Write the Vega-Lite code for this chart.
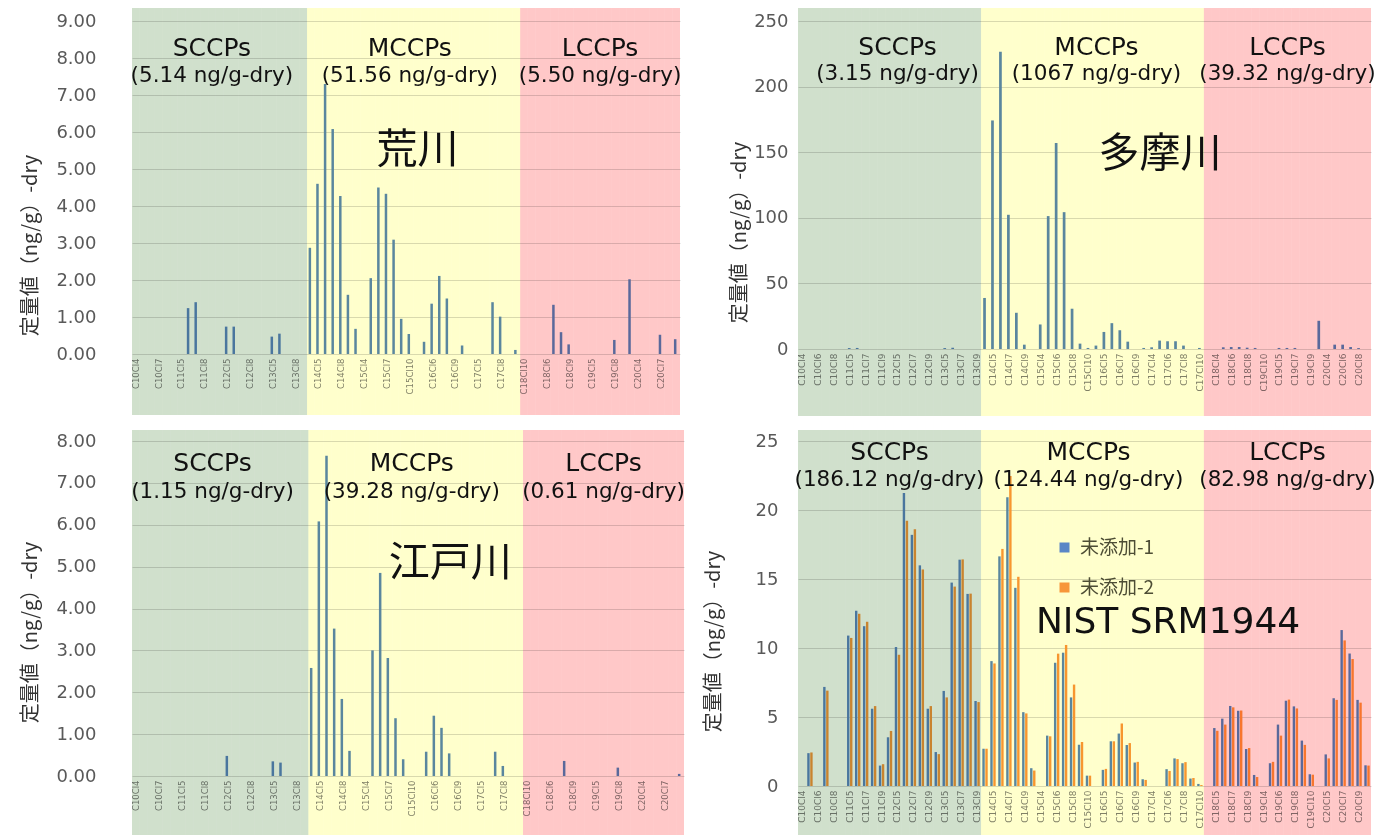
{
"$schema": "https://vega.github.io/schema/vega-lite/v6.json",
"background": "white",
"padding": {"left": 20, "top": 8, "right": 0, "bottom": 0},
"config": {
 "view": {"stroke": null},
 "axis": {"domain": false, "ticks": false, "labelFont": "DejaVu Sans", "labelColor": "#595959", "gridColor": "#d9d9d9", "titleFont": "Noto Sans CJK JP", "titleFontWeight": "normal", "titleFontSize": 20, "titleColor": "#333333", "labelOverlap": false},
 "axisX": {"labelAngle": -90, "labelFontSize": 8.5, "labelColor": "#808080", "labelPadding": 4, "grid": false},
 "axisY": {"labelFontSize": 18, "grid": true},
 "text": {"color": "#111111"}
},
"datasets": {
 "cats_top": [
  {"cat":"C10Cl4","grp":"SCCPs"},{"cat":"C10Cl5","grp":"SCCPs"},{"cat":"C10Cl6","grp":"SCCPs"},{"cat":"C10Cl7","grp":"SCCPs"},{"cat":"C10Cl8","grp":"SCCPs"},
  {"cat":"C11Cl4","grp":"SCCPs"},{"cat":"C11Cl5","grp":"SCCPs"},{"cat":"C11Cl6","grp":"SCCPs"},{"cat":"C11Cl7","grp":"SCCPs"},{"cat":"C11Cl8","grp":"SCCPs"},{"cat":"C11Cl9","grp":"SCCPs"},
  {"cat":"C12Cl4","grp":"SCCPs"},{"cat":"C12Cl5","grp":"SCCPs"},{"cat":"C12Cl6","grp":"SCCPs"},{"cat":"C12Cl7","grp":"SCCPs"},{"cat":"C12Cl8","grp":"SCCPs"},{"cat":"C12Cl9","grp":"SCCPs"},
  {"cat":"C13Cl4","grp":"SCCPs"},{"cat":"C13Cl5","grp":"SCCPs"},{"cat":"C13Cl6","grp":"SCCPs"},{"cat":"C13Cl7","grp":"SCCPs"},{"cat":"C13Cl8","grp":"SCCPs"},{"cat":"C13Cl9","grp":"SCCPs"},
  {"cat":"C14Cl4","grp":"MCCPs"},{"cat":"C14Cl5","grp":"MCCPs"},{"cat":"C14Cl6","grp":"MCCPs"},{"cat":"C14Cl7","grp":"MCCPs"},{"cat":"C14Cl8","grp":"MCCPs"},{"cat":"C14Cl9","grp":"MCCPs"},{"cat":"C14Cl10","grp":"MCCPs"},
  {"cat":"C15Cl4","grp":"MCCPs"},{"cat":"C15Cl5","grp":"MCCPs"},{"cat":"C15Cl6","grp":"MCCPs"},{"cat":"C15Cl7","grp":"MCCPs"},{"cat":"C15Cl8","grp":"MCCPs"},{"cat":"C15Cl9","grp":"MCCPs"},{"cat":"C15Cl10","grp":"MCCPs"},
  {"cat":"C16Cl4","grp":"MCCPs"},{"cat":"C16Cl5","grp":"MCCPs"},{"cat":"C16Cl6","grp":"MCCPs"},{"cat":"C16Cl7","grp":"MCCPs"},{"cat":"C16Cl8","grp":"MCCPs"},{"cat":"C16Cl9","grp":"MCCPs"},{"cat":"C16Cl10","grp":"MCCPs"},
  {"cat":"C17Cl4","grp":"MCCPs"},{"cat":"C17Cl5","grp":"MCCPs"},{"cat":"C17Cl6","grp":"MCCPs"},{"cat":"C17Cl7","grp":"MCCPs"},{"cat":"C17Cl8","grp":"MCCPs"},{"cat":"C17Cl9","grp":"MCCPs"},{"cat":"C17Cl10","grp":"MCCPs"},
  {"cat":"C18Cl10","grp":"LCCPs"},{"cat":"C18Cl4","grp":"LCCPs"},{"cat":"C18Cl5","grp":"LCCPs"},{"cat":"C18Cl6","grp":"LCCPs"},{"cat":"C18Cl7","grp":"LCCPs"},{"cat":"C18Cl8","grp":"LCCPs"},{"cat":"C18Cl9","grp":"LCCPs"},
  {"cat":"C19Cl10","grp":"LCCPs"},{"cat":"C19Cl4","grp":"LCCPs"},{"cat":"C19Cl5","grp":"LCCPs"},{"cat":"C19Cl6","grp":"LCCPs"},{"cat":"C19Cl7","grp":"LCCPs"},{"cat":"C19Cl8","grp":"LCCPs"},{"cat":"C19Cl9","grp":"LCCPs"},
  {"cat":"C20Cl10","grp":"LCCPs"},{"cat":"C20Cl4","grp":"LCCPs"},{"cat":"C20Cl5","grp":"LCCPs"},{"cat":"C20Cl6","grp":"LCCPs"},{"cat":"C20Cl7","grp":"LCCPs"},{"cat":"C20Cl8","grp":"LCCPs"},{"cat":"C20Cl9","grp":"LCCPs"}
 ],
 "cats_nat": [
  {"cat":"C10Cl4","grp":"SCCPs"},{"cat":"C10Cl5","grp":"SCCPs"},{"cat":"C10Cl6","grp":"SCCPs"},{"cat":"C10Cl7","grp":"SCCPs"},{"cat":"C10Cl8","grp":"SCCPs"},
  {"cat":"C11Cl4","grp":"SCCPs"},{"cat":"C11Cl5","grp":"SCCPs"},{"cat":"C11Cl6","grp":"SCCPs"},{"cat":"C11Cl7","grp":"SCCPs"},{"cat":"C11Cl8","grp":"SCCPs"},{"cat":"C11Cl9","grp":"SCCPs"},
  {"cat":"C12Cl4","grp":"SCCPs"},{"cat":"C12Cl5","grp":"SCCPs"},{"cat":"C12Cl6","grp":"SCCPs"},{"cat":"C12Cl7","grp":"SCCPs"},{"cat":"C12Cl8","grp":"SCCPs"},{"cat":"C12Cl9","grp":"SCCPs"},
  {"cat":"C13Cl4","grp":"SCCPs"},{"cat":"C13Cl5","grp":"SCCPs"},{"cat":"C13Cl6","grp":"SCCPs"},{"cat":"C13Cl7","grp":"SCCPs"},{"cat":"C13Cl8","grp":"SCCPs"},{"cat":"C13Cl9","grp":"SCCPs"},
  {"cat":"C14Cl4","grp":"MCCPs"},{"cat":"C14Cl5","grp":"MCCPs"},{"cat":"C14Cl6","grp":"MCCPs"},{"cat":"C14Cl7","grp":"MCCPs"},{"cat":"C14Cl8","grp":"MCCPs"},{"cat":"C14Cl9","grp":"MCCPs"},{"cat":"C14Cl10","grp":"MCCPs"},
  {"cat":"C15Cl4","grp":"MCCPs"},{"cat":"C15Cl5","grp":"MCCPs"},{"cat":"C15Cl6","grp":"MCCPs"},{"cat":"C15Cl7","grp":"MCCPs"},{"cat":"C15Cl8","grp":"MCCPs"},{"cat":"C15Cl9","grp":"MCCPs"},{"cat":"C15Cl10","grp":"MCCPs"},
  {"cat":"C16Cl4","grp":"MCCPs"},{"cat":"C16Cl5","grp":"MCCPs"},{"cat":"C16Cl6","grp":"MCCPs"},{"cat":"C16Cl7","grp":"MCCPs"},{"cat":"C16Cl8","grp":"MCCPs"},{"cat":"C16Cl9","grp":"MCCPs"},{"cat":"C16Cl10","grp":"MCCPs"},
  {"cat":"C17Cl4","grp":"MCCPs"},{"cat":"C17Cl5","grp":"MCCPs"},{"cat":"C17Cl6","grp":"MCCPs"},{"cat":"C17Cl7","grp":"MCCPs"},{"cat":"C17Cl8","grp":"MCCPs"},{"cat":"C17Cl9","grp":"MCCPs"},{"cat":"C17Cl10","grp":"MCCPs"},
  {"cat":"C18Cl4","grp":"LCCPs"},{"cat":"C18Cl5","grp":"LCCPs"},{"cat":"C18Cl6","grp":"LCCPs"},{"cat":"C18Cl7","grp":"LCCPs"},{"cat":"C18Cl8","grp":"LCCPs"},{"cat":"C18Cl9","grp":"LCCPs"},{"cat":"C18Cl10","grp":"LCCPs"},
  {"cat":"C19Cl4","grp":"LCCPs"},{"cat":"C19Cl5","grp":"LCCPs"},{"cat":"C19Cl6","grp":"LCCPs"},{"cat":"C19Cl7","grp":"LCCPs"},{"cat":"C19Cl8","grp":"LCCPs"},{"cat":"C19Cl9","grp":"LCCPs"},{"cat":"C19Cl10","grp":"LCCPs"},
  {"cat":"C20Cl4","grp":"LCCPs"},{"cat":"C20Cl5","grp":"LCCPs"},{"cat":"C20Cl6","grp":"LCCPs"},{"cat":"C20Cl7","grp":"LCCPs"},{"cat":"C20Cl8","grp":"LCCPs"},{"cat":"C20Cl9","grp":"LCCPs"},{"cat":"C20Cl10","grp":"LCCPs"}
 ],
 "arakawa": [
  {"cat":"C11Cl6","v":1.24},{"cat":"C11Cl7","v":1.40},{"cat":"C12Cl5","v":0.74},{"cat":"C12Cl6","v":0.74},{"cat":"C13Cl5","v":0.47},{"cat":"C13Cl6","v":0.55},
  {"cat":"C14Cl4","v":2.87},{"cat":"C14Cl5","v":4.60},{"cat":"C14Cl6","v":7.30},{"cat":"C14Cl7","v":6.08},{"cat":"C14Cl8","v":4.27},{"cat":"C14Cl9","v":1.60},{"cat":"C14Cl10","v":0.68},
  {"cat":"C15Cl5","v":2.05},{"cat":"C15Cl6","v":4.50},{"cat":"C15Cl7","v":4.33},{"cat":"C15Cl8","v":3.09},{"cat":"C15Cl9","v":0.95},{"cat":"C15Cl10","v":0.54},
  {"cat":"C16Cl5","v":0.33},{"cat":"C16Cl6","v":1.36},{"cat":"C16Cl7","v":2.11},{"cat":"C16Cl8","v":1.50},{"cat":"C16Cl10","v":0.23},
  {"cat":"C17Cl7","v":1.40},{"cat":"C17Cl8","v":1.01},{"cat":"C17Cl10","v":0.11},
  {"cat":"C18Cl7","v":1.33},{"cat":"C18Cl8","v":0.59},{"cat":"C18Cl9","v":0.26},{"cat":"C19Cl8","v":0.38},{"cat":"C20Cl10","v":2.02},{"cat":"C20Cl7","v":0.52},{"cat":"C20Cl9","v":0.40}
 ],
 "tamagawa": [
  {"cat":"C11Cl5","v":0.7},{"cat":"C11Cl6","v":0.8},{"cat":"C13Cl5","v":0.7},{"cat":"C13Cl6","v":0.95},
  {"cat":"C14Cl4","v":38.9},{"cat":"C14Cl5","v":174.2},{"cat":"C14Cl6","v":226.5},{"cat":"C14Cl7","v":102.3},{"cat":"C14Cl8","v":27.6},{"cat":"C14Cl9","v":3.3},
  {"cat":"C15Cl4","v":18.7},{"cat":"C15Cl5","v":101.3},{"cat":"C15Cl6","v":157.0},{"cat":"C15Cl7","v":104.3},{"cat":"C15Cl8","v":30.7},{"cat":"C15Cl9","v":4.1},{"cat":"C15Cl10","v":0.8},
  {"cat":"C16Cl4","v":2.6},{"cat":"C16Cl5","v":13.0},{"cat":"C16Cl6","v":19.7},{"cat":"C16Cl7","v":14.3},{"cat":"C16Cl8","v":5.6},{"cat":"C16Cl10","v":0.8},
  {"cat":"C17Cl4","v":1.3},{"cat":"C17Cl5","v":6.4},{"cat":"C17Cl6","v":5.9},{"cat":"C17Cl7","v":5.9},{"cat":"C17Cl8","v":2.6},{"cat":"C17Cl10","v":0.8},
  {"cat":"C18Cl5","v":1.3},{"cat":"C18Cl6","v":1.5},{"cat":"C18Cl7","v":1.5},{"cat":"C18Cl8","v":1.0},{"cat":"C18Cl9","v":0.8},
  {"cat":"C19Cl5","v":0.8},{"cat":"C19Cl6","v":0.8},{"cat":"C19Cl7","v":0.8},
  {"cat":"C20Cl10","v":21.5},{"cat":"C20Cl5","v":3.3},{"cat":"C20Cl6","v":3.3},{"cat":"C20Cl7","v":1.5},{"cat":"C20Cl8","v":0.7}
 ],
 "edogawa": [
  {"cat":"C12Cl5","v":0.48},{"cat":"C13Cl5","v":0.35},{"cat":"C13Cl6","v":0.32},
  {"cat":"C14Cl4","v":2.58},{"cat":"C14Cl5","v":6.08},{"cat":"C14Cl6","v":7.65},{"cat":"C14Cl7","v":3.52},{"cat":"C14Cl8","v":1.84},{"cat":"C14Cl9","v":0.60},
  {"cat":"C15Cl5","v":3.00},{"cat":"C15Cl6","v":4.85},{"cat":"C15Cl7","v":2.82},{"cat":"C15Cl8","v":1.38},{"cat":"C15Cl9","v":0.40},
  {"cat":"C16Cl5","v":0.58},{"cat":"C16Cl6","v":1.44},{"cat":"C16Cl7","v":1.15},{"cat":"C16Cl8","v":0.54},
  {"cat":"C17Cl7","v":0.58},{"cat":"C17Cl8","v":0.24},
  {"cat":"C18Cl8","v":0.36},{"cat":"C19Cl8","v":0.20},{"cat":"C20Cl9","v":0.05}
 ],
 "nist": [
  {"cat":"C10Cl5","s":"未添加-1","v":2.38},{"cat":"C10Cl5","s":"未添加-2","v":2.43},
  {"cat":"C10Cl7","s":"未添加-1","v":7.18},{"cat":"C10Cl7","s":"未添加-2","v":6.91},
  {"cat":"C11Cl5","s":"未添加-1","v":10.90},{"cat":"C11Cl5","s":"未添加-2","v":10.73},
  {"cat":"C11Cl6","s":"未添加-1","v":12.70},{"cat":"C11Cl6","s":"未添加-2","v":12.48},
  {"cat":"C11Cl7","s":"未添加-1","v":11.58},{"cat":"C11Cl7","s":"未添加-2","v":11.90},
  {"cat":"C11Cl8","s":"未添加-1","v":5.60},{"cat":"C11Cl8","s":"未添加-2","v":5.79},
  {"cat":"C11Cl9","s":"未添加-1","v":1.48},{"cat":"C11Cl9","s":"未添加-2","v":1.58},
  {"cat":"C12Cl4","s":"未添加-1","v":3.53},{"cat":"C12Cl4","s":"未添加-2","v":3.99},
  {"cat":"C12Cl5","s":"未添加-1","v":10.07},{"cat":"C12Cl5","s":"未添加-2","v":9.51},
  {"cat":"C12Cl6","s":"未添加-1","v":21.24},{"cat":"C12Cl6","s":"未添加-2","v":19.22},
  {"cat":"C12Cl7","s":"未添加-1","v":18.20},{"cat":"C12Cl7","s":"未添加-2","v":18.61},
  {"cat":"C12Cl8","s":"未添加-1","v":15.99},{"cat":"C12Cl8","s":"未添加-2","v":15.69},
  {"cat":"C12Cl9","s":"未添加-1","v":5.60},{"cat":"C12Cl9","s":"未添加-2","v":5.79},
  {"cat":"C13Cl4","s":"未添加-1","v":2.46},{"cat":"C13Cl4","s":"未添加-2","v":2.31},
  {"cat":"C13Cl5","s":"未添加-1","v":6.89},{"cat":"C13Cl5","s":"未添加-2","v":6.42},
  {"cat":"C13Cl6","s":"未添加-1","v":14.74},{"cat":"C13Cl6","s":"未添加-2","v":14.45},
  {"cat":"C13Cl7","s":"未添加-1","v":16.40},{"cat":"C13Cl7","s":"未添加-2","v":16.42},
  {"cat":"C13Cl8","s":"未添加-1","v":13.92},{"cat":"C13Cl8","s":"未添加-2","v":13.94},
  {"cat":"C13Cl9","s":"未添加-1","v":6.16},{"cat":"C13Cl9","s":"未添加-2","v":6.08},
  {"cat":"C14Cl4","s":"未添加-1","v":2.70},{"cat":"C14Cl4","s":"未添加-2","v":2.70},
  {"cat":"C14Cl5","s":"未添加-1","v":9.05},{"cat":"C14Cl5","s":"未添加-2","v":8.88},
  {"cat":"C14Cl6","s":"未添加-1","v":16.64},{"cat":"C14Cl6","s":"未添加-2","v":17.18},
  {"cat":"C14Cl7","s":"未添加-1","v":20.92},{"cat":"C14Cl7","s":"未添加-2","v":22.46},
  {"cat":"C14Cl8","s":"未添加-1","v":14.36},{"cat":"C14Cl8","s":"未添加-2","v":15.16},
  {"cat":"C14Cl9","s":"未添加-1","v":5.35},{"cat":"C14Cl9","s":"未添加-2","v":5.26},
  {"cat":"C14Cl10","s":"未添加-1","v":1.29},{"cat":"C14Cl10","s":"未添加-2","v":1.12},
  {"cat":"C15Cl5","s":"未添加-1","v":3.65},{"cat":"C15Cl5","s":"未添加-2","v":3.60},
  {"cat":"C15Cl6","s":"未添加-1","v":8.93},{"cat":"C15Cl6","s":"未添加-2","v":9.59},
  {"cat":"C15Cl7","s":"未添加-1","v":9.66},{"cat":"C15Cl7","s":"未添加-2","v":10.22},
  {"cat":"C15Cl8","s":"未添加-1","v":6.42},{"cat":"C15Cl8","s":"未添加-2","v":7.35},
  {"cat":"C15Cl9","s":"未添加-1","v":2.99},{"cat":"C15Cl9","s":"未添加-2","v":3.19},
  {"cat":"C15Cl10","s":"未添加-1","v":0.75},{"cat":"C15Cl10","s":"未添加-2","v":0.75},
  {"cat":"C16Cl5","s":"未添加-1","v":1.17},{"cat":"C16Cl5","s":"未添加-2","v":1.24},
  {"cat":"C16Cl6","s":"未添加-1","v":3.24},{"cat":"C16Cl6","s":"未添加-2","v":3.24},
  {"cat":"C16Cl7","s":"未添加-1","v":3.80},{"cat":"C16Cl7","s":"未添加-2","v":4.53},
  {"cat":"C16Cl8","s":"未添加-1","v":2.97},{"cat":"C16Cl8","s":"未添加-2","v":3.11},
  {"cat":"C16Cl9","s":"未添加-1","v":1.70},{"cat":"C16Cl9","s":"未添加-2","v":1.75},
  {"cat":"C16Cl10","s":"未添加-1","v":0.49},{"cat":"C16Cl10","s":"未添加-2","v":0.44},
  {"cat":"C17Cl6","s":"未添加-1","v":1.22},{"cat":"C17Cl6","s":"未添加-2","v":1.09},
  {"cat":"C17Cl7","s":"未添加-1","v":2.00},{"cat":"C17Cl7","s":"未添加-2","v":1.95},
  {"cat":"C17Cl8","s":"未添加-1","v":1.65},{"cat":"C17Cl8","s":"未添加-2","v":1.73},
  {"cat":"C17Cl9","s":"未添加-1","v":0.54},{"cat":"C17Cl9","s":"未添加-2","v":0.58},
  {"cat":"C17Cl10","s":"未添加-1","v":0.15},{"cat":"C17Cl10","s":"未添加-2","v":0.07},
  {"cat":"C18Cl5","s":"未添加-1","v":4.20},{"cat":"C18Cl5","s":"未添加-2","v":4.00},
  {"cat":"C18Cl6","s":"未添加-1","v":4.88},{"cat":"C18Cl6","s":"未添加-2","v":4.45},
  {"cat":"C18Cl7","s":"未添加-1","v":5.80},{"cat":"C18Cl7","s":"未添加-2","v":5.70},
  {"cat":"C18Cl8","s":"未添加-1","v":5.45},{"cat":"C18Cl8","s":"未添加-2","v":5.47},
  {"cat":"C18Cl9","s":"未添加-1","v":2.68},{"cat":"C18Cl9","s":"未添加-2","v":2.75},
  {"cat":"C18Cl10","s":"未添加-1","v":0.80},{"cat":"C18Cl10","s":"未添加-2","v":0.65},
  {"cat":"C19Cl5","s":"未添加-1","v":1.65},{"cat":"C19Cl5","s":"未添加-2","v":1.75},
  {"cat":"C19Cl6","s":"未添加-1","v":4.45},{"cat":"C19Cl6","s":"未添加-2","v":3.65},
  {"cat":"C19Cl7","s":"未添加-1","v":6.18},{"cat":"C19Cl7","s":"未添加-2","v":6.26},
  {"cat":"C19Cl8","s":"未添加-1","v":5.77},{"cat":"C19Cl8","s":"未添加-2","v":5.62},
  {"cat":"C19Cl9","s":"未添加-1","v":3.29},{"cat":"C19Cl9","s":"未添加-2","v":2.98},
  {"cat":"C19Cl10","s":"未添加-1","v":0.86},{"cat":"C19Cl10","s":"未添加-2","v":0.82},
  {"cat":"C20Cl5","s":"未添加-1","v":2.29},{"cat":"C20Cl5","s":"未添加-2","v":2.00},
  {"cat":"C20Cl6","s":"未添加-1","v":6.36},{"cat":"C20Cl6","s":"未添加-2","v":6.24},
  {"cat":"C20Cl7","s":"未添加-1","v":11.30},{"cat":"C20Cl7","s":"未添加-2","v":10.55},
  {"cat":"C20Cl8","s":"未添加-1","v":9.60},{"cat":"C20Cl8","s":"未添加-2","v":9.20},
  {"cat":"C20Cl9","s":"未添加-1","v":6.24},{"cat":"C20Cl9","s":"未添加-2","v":6.04},
  {"cat":"C20Cl10","s":"未添加-1","v":1.50},{"cat":"C20Cl10","s":"未添加-2","v":1.48}
 ],
 "ann_tl": [
  {"at":"C11Cl9","y":8.27,"txt":"SCCPs","kind":"head"},
  {"at":"C15Cl10","y":8.27,"txt":"MCCPs","kind":"head"},
  {"at":"C19Cl6","y":8.27,"txt":"LCCPs","kind":"head"},
  {"at":"C11Cl9","y":7.52,"txt":"(5.14 ng/g-dry)","kind":"amount"},
  {"at":"C15Cl10","y":7.52,"txt":"(51.56 ng/g-dry)","kind":"amount"},
  {"at":"C19Cl6","y":7.52,"txt":"(5.50 ng/g-dry)","kind":"amount"},
  {"at":"C16Cl4","y":5.48,"txt":"荒川","kind":"place"}
 ],
 "ann_tr": [
  {"at":"C12Cl5","y":230.5,"txt":"SCCPs","kind":"head"},
  {"at":"C16Cl4","y":230.5,"txt":"MCCPs","kind":"head"},
  {"at":"C19Cl6","y":230.5,"txt":"LCCPs","kind":"head"},
  {"at":"C12Cl5","y":209.5,"txt":"(3.15 ng/g-dry)","kind":"amount"},
  {"at":"C16Cl4","y":209.5,"txt":"(1067 ng/g-dry)","kind":"amount"},
  {"at":"C19Cl6","y":209.5,"txt":"(39.32 ng/g-dry)","kind":"amount"},
  {"at":"C17Cl5","y":148,"txt":"多摩川","kind":"place"}
 ],
 "ann_bl": [
  {"at":"C11Cl9","y":7.48,"txt":"SCCPs","kind":"head"},
  {"at":"C15Cl10","y":7.48,"txt":"MCCPs","kind":"head"},
  {"at":"C19Cl6","y":7.48,"txt":"LCCPs","kind":"head"},
  {"at":"C11Cl9","y":6.79,"txt":"(1.15 ng/g-dry)","kind":"amount"},
  {"at":"C15Cl10","y":6.79,"txt":"(39.28 ng/g-dry)","kind":"amount"},
  {"at":"C19Cl6","y":6.79,"txt":"(0.61 ng/g-dry)","kind":"amount"},
  {"at":"C16Cl8","y":5.06,"txt":"江戸川","kind":"place"}
 ],
 "ann_br": [
  {"at":"C12Cl4","y":24.2,"txt":"SCCPs","kind":"head"},
  {"at":"C15Cl10","y":24.2,"txt":"MCCPs","kind":"head"},
  {"at":"C19Cl7","y":24.2,"txt":"LCCPs","kind":"head"},
  {"at":"C12Cl4","y":22.2,"txt":"(186.12 ng/g-dry)","kind":"amount"},
  {"at":"C15Cl10","y":22.2,"txt":"(124.44 ng/g-dry)","kind":"amount"},
  {"at":"C19Cl7","y":22.2,"txt":"(82.98 ng/g-dry)","kind":"amount"},
  {"at":"C17Cl6","y":11.9,"txt":"NIST SRM1944","kind":"place"}
 ]
},
"spacing": 14,
"vconcat": [
 {"spacing": 47, "hconcat": [
  {"width": 548, "height": 333, "layer": [
   {"data": {"name": "arakawa"},
    "mark": {"type": "bar", "width": 2.5, "xOffset": -1, "color": "#5A86C6"},
    "encoding": {
     "x": {"field": "cat", "type": "nominal", "title": null,
       "scale": {"paddingInner": 0, "paddingOuter": 0, "domain": ["C10Cl4","C10Cl5","C10Cl6","C10Cl7","C10Cl8","C11Cl4","C11Cl5","C11Cl6","C11Cl7","C11Cl8","C11Cl9","C12Cl4","C12Cl5","C12Cl6","C12Cl7","C12Cl8","C12Cl9","C13Cl4","C13Cl5","C13Cl6","C13Cl7","C13Cl8","C13Cl9","C14Cl4","C14Cl5","C14Cl6","C14Cl7","C14Cl8","C14Cl9","C14Cl10","C15Cl4","C15Cl5","C15Cl6","C15Cl7","C15Cl8","C15Cl9","C15Cl10","C16Cl4","C16Cl5","C16Cl6","C16Cl7","C16Cl8","C16Cl9","C16Cl10","C17Cl4","C17Cl5","C17Cl6","C17Cl7","C17Cl8","C17Cl9","C17Cl10","C18Cl10","C18Cl4","C18Cl5","C18Cl6","C18Cl7","C18Cl8","C18Cl9","C19Cl10","C19Cl4","C19Cl5","C19Cl6","C19Cl7","C19Cl8","C19Cl9","C20Cl10","C20Cl4","C20Cl5","C20Cl6","C20Cl7","C20Cl8","C20Cl9"]},
       "axis": {"values": ["C10Cl4","C10Cl7","C11Cl5","C11Cl8","C12Cl5","C12Cl8","C13Cl5","C13Cl8","C14Cl5","C14Cl8","C15Cl4","C15Cl7","C15Cl10","C16Cl6","C16Cl9","C17Cl5","C17Cl8","C18Cl10","C18Cl6","C18Cl9","C19Cl5","C19Cl8","C20Cl4","C20Cl7"]}},
     "y": {"field": "v", "type": "quantitative", "title": "定量値（ng/g）-dry",
       "scale": {"domain": [0, 9], "nice": false},
       "axis": {"values": [0,1,2,3,4,5,6,7,8,9], "tickCount": 12, "format": ".2f", "labelPadding": 36, "minExtent": 77, "maxExtent": 77, "titlePadding": 15, "titleY": 224}}
    }},
   {"data": {"name": "cats_top"},
    "mark": {"type": "rect", "blend": "multiply", "yOffset": -13, "y2Offset": 61},
    "encoding": {
     "x": {"field": "cat", "type": "nominal"},
     "y": {"datum": 9, "type": "quantitative"}, "y2": {"datum": 0},
     "fill": {"field": "grp", "type": "nominal", "legend": null, "scale": {"domain": ["SCCPs","MCCPs","LCCPs"], "range": ["#D0E0CC","#FFFFCC","#FFC8C8"]}}
    }},
   {"data": {"name": "ann_tl"}, "transform": [{"filter": "datum.kind == 'head'"}],
    "mark": {"type": "text", "font": "DejaVu Sans", "fontSize": 25, "baseline": "middle"},
    "encoding": {"x": {"field": "at", "type": "nominal"}, "y": {"field": "y", "type": "quantitative"}, "text": {"field": "txt"}}},
   {"data": {"name": "ann_tl"}, "transform": [{"filter": "datum.kind == 'amount'"}],
    "mark": {"type": "text", "font": "DejaVu Sans", "fontSize": 21.5, "baseline": "middle"},
    "encoding": {"x": {"field": "at", "type": "nominal"}, "y": {"field": "y", "type": "quantitative"}, "text": {"field": "txt"}}},
   {"data": {"name": "ann_tl"}, "transform": [{"filter": "datum.kind == 'place'"}],
    "mark": {"type": "text", "font": "Noto Sans CJK JP", "fontSize": 41, "baseline": "middle"},
    "encoding": {"x": {"field": "at", "type": "nominal"}, "y": {"field": "y", "type": "quantitative"}, "text": {"field": "txt"}}}
  ]},
  {"width": 573, "height": 328, "layer": [
   {"data": {"name": "tamagawa"},
    "mark": {"type": "bar", "width": 2.7, "xOffset": -0.5, "color": "#5A86C6"},
    "encoding": {
     "x": {"field": "cat", "type": "nominal", "title": null,
       "scale": {"paddingInner": 0, "paddingOuter": 0, "domain": ["C10Cl4","C10Cl5","C10Cl6","C10Cl7","C10Cl8","C11Cl4","C11Cl5","C11Cl6","C11Cl7","C11Cl8","C11Cl9","C12Cl4","C12Cl5","C12Cl6","C12Cl7","C12Cl8","C12Cl9","C13Cl4","C13Cl5","C13Cl6","C13Cl7","C13Cl8","C13Cl9","C14Cl4","C14Cl5","C14Cl6","C14Cl7","C14Cl8","C14Cl9","C14Cl10","C15Cl4","C15Cl5","C15Cl6","C15Cl7","C15Cl8","C15Cl9","C15Cl10","C16Cl4","C16Cl5","C16Cl6","C16Cl7","C16Cl8","C16Cl9","C16Cl10","C17Cl4","C17Cl5","C17Cl6","C17Cl7","C17Cl8","C17Cl9","C17Cl10","C18Cl10","C18Cl4","C18Cl5","C18Cl6","C18Cl7","C18Cl8","C18Cl9","C19Cl10","C19Cl4","C19Cl5","C19Cl6","C19Cl7","C19Cl8","C19Cl9","C20Cl10","C20Cl4","C20Cl5","C20Cl6","C20Cl7","C20Cl8","C20Cl9"]},
       "axis": {"labelFontSize": 9, "values": ["C10Cl4","C10Cl6","C10Cl8","C11Cl5","C11Cl7","C11Cl9","C12Cl5","C12Cl7","C12Cl9","C13Cl5","C13Cl7","C13Cl9","C14Cl5","C14Cl7","C14Cl9","C15Cl4","C15Cl6","C15Cl8","C15Cl10","C16Cl5","C16Cl7","C16Cl9","C17Cl4","C17Cl6","C17Cl8","C17Cl10","C18Cl4","C18Cl6","C18Cl8","C19Cl10","C19Cl5","C19Cl7","C19Cl9","C20Cl4","C20Cl6","C20Cl8"]}},
     "y": {"field": "v", "type": "quantitative", "title": "定量値（ng/g）-dry",
       "scale": {"domain": [0, 250], "nice": false},
       "axis": {"values": [0,50,100,150,200,250], "tickCount": 8, "format": "d", "labelPadding": 10, "minExtent": 45, "maxExtent": 45, "titlePadding": 4, "titleY": 211}}
    }},
   {"data": {"name": "cats_top"},
    "mark": {"type": "rect", "blend": "multiply", "yOffset": -13, "y2Offset": 67},
    "encoding": {
     "x": {"field": "cat", "type": "nominal"},
     "y": {"datum": 250, "type": "quantitative"}, "y2": {"datum": 0},
     "fill": {"field": "grp", "type": "nominal", "legend": null, "scale": {"domain": ["SCCPs","MCCPs","LCCPs"], "range": ["#D0E0CC","#FFFFCC","#FFC8C8"]}}
    }},
   {"data": {"name": "ann_tr"}, "transform": [{"filter": "datum.kind == 'head'"}],
    "mark": {"type": "text", "font": "DejaVu Sans", "fontSize": 25, "baseline": "middle"},
    "encoding": {"x": {"field": "at", "type": "nominal"}, "y": {"field": "y", "type": "quantitative"}, "text": {"field": "txt"}}},
   {"data": {"name": "ann_tr"}, "transform": [{"filter": "datum.kind == 'amount'"}],
    "mark": {"type": "text", "font": "DejaVu Sans", "fontSize": 21.5, "baseline": "middle"},
    "encoding": {"x": {"field": "at", "type": "nominal"}, "y": {"field": "y", "type": "quantitative"}, "text": {"field": "txt"}}},
   {"data": {"name": "ann_tr"}, "transform": [{"filter": "datum.kind == 'place'"}],
    "mark": {"type": "text", "font": "Noto Sans CJK JP", "fontSize": 41, "baseline": "middle"},
    "encoding": {"x": {"field": "at", "type": "nominal"}, "y": {"field": "y", "type": "quantitative"}, "text": {"field": "txt"}}}
  ]}
 ]},
 {"spacing": 18, "hconcat": [
  {"width": 552, "height": 335, "layer": [
   {"data": {"name": "edogawa"},
    "mark": {"type": "bar", "width": 2.5, "xOffset": -1, "color": "#5A86C6"},
    "encoding": {
     "x": {"field": "cat", "type": "nominal", "title": null,
       "scale": {"paddingInner": 0, "paddingOuter": 0, "domain": ["C10Cl4","C10Cl5","C10Cl6","C10Cl7","C10Cl8","C11Cl4","C11Cl5","C11Cl6","C11Cl7","C11Cl8","C11Cl9","C12Cl4","C12Cl5","C12Cl6","C12Cl7","C12Cl8","C12Cl9","C13Cl4","C13Cl5","C13Cl6","C13Cl7","C13Cl8","C13Cl9","C14Cl4","C14Cl5","C14Cl6","C14Cl7","C14Cl8","C14Cl9","C14Cl10","C15Cl4","C15Cl5","C15Cl6","C15Cl7","C15Cl8","C15Cl9","C15Cl10","C16Cl4","C16Cl5","C16Cl6","C16Cl7","C16Cl8","C16Cl9","C16Cl10","C17Cl4","C17Cl5","C17Cl6","C17Cl7","C17Cl8","C17Cl9","C17Cl10","C18Cl10","C18Cl4","C18Cl5","C18Cl6","C18Cl7","C18Cl8","C18Cl9","C19Cl10","C19Cl4","C19Cl5","C19Cl6","C19Cl7","C19Cl8","C19Cl9","C20Cl10","C20Cl4","C20Cl5","C20Cl6","C20Cl7","C20Cl8","C20Cl9"]},
       "axis": {"values": ["C10Cl4","C10Cl7","C11Cl5","C11Cl8","C12Cl5","C12Cl8","C13Cl5","C13Cl8","C14Cl5","C14Cl8","C15Cl4","C15Cl7","C15Cl10","C16Cl6","C16Cl9","C17Cl5","C17Cl8","C18Cl10","C18Cl6","C18Cl9","C19Cl5","C19Cl8","C20Cl4","C20Cl7"]}},
     "y": {"field": "v", "type": "quantitative", "title": "定量値（ng/g）-dry",
       "scale": {"domain": [0, 8], "nice": false},
       "axis": {"values": [0,1,2,3,4,5,6,7,8], "tickCount": 12, "format": ".2f", "labelPadding": 36, "minExtent": 77, "maxExtent": 77, "titlePadding": 15, "titleY": 191}}
    }},
   {"data": {"name": "cats_top"},
    "mark": {"type": "rect", "blend": "multiply", "yOffset": -11, "y2Offset": 59},
    "encoding": {
     "x": {"field": "cat", "type": "nominal"},
     "y": {"datum": 8, "type": "quantitative"}, "y2": {"datum": 0},
     "fill": {"field": "grp", "type": "nominal", "legend": null, "scale": {"domain": ["SCCPs","MCCPs","LCCPs"], "range": ["#D0E0CC","#FFFFCC","#FFC8C8"]}}
    }},
   {"data": {"name": "ann_bl"}, "transform": [{"filter": "datum.kind == 'head'"}],
    "mark": {"type": "text", "font": "DejaVu Sans", "fontSize": 25, "baseline": "middle"},
    "encoding": {"x": {"field": "at", "type": "nominal"}, "y": {"field": "y", "type": "quantitative"}, "text": {"field": "txt"}}},
   {"data": {"name": "ann_bl"}, "transform": [{"filter": "datum.kind == 'amount'"}],
    "mark": {"type": "text", "font": "DejaVu Sans", "fontSize": 21.5, "baseline": "middle"},
    "encoding": {"x": {"field": "at", "type": "nominal"}, "y": {"field": "y", "type": "quantitative"}, "text": {"field": "txt"}}},
   {"data": {"name": "ann_bl"}, "transform": [{"filter": "datum.kind == 'place'"}],
    "mark": {"type": "text", "font": "Noto Sans CJK JP", "fontSize": 41, "baseline": "middle"},
    "encoding": {"x": {"field": "at", "type": "nominal"}, "y": {"field": "y", "type": "quantitative"}, "text": {"field": "txt"}}}
  ]},
  {"width": 573, "height": 345, "layer": [
   {"data": {"name": "nist"},
    "mark": {"type": "bar"},
    "encoding": {
     "x": {"field": "cat", "type": "nominal", "title": null,
       "scale": {"paddingInner": 0, "paddingOuter": 0, "domain": ["C10Cl4","C10Cl5","C10Cl6","C10Cl7","C10Cl8","C11Cl4","C11Cl5","C11Cl6","C11Cl7","C11Cl8","C11Cl9","C12Cl4","C12Cl5","C12Cl6","C12Cl7","C12Cl8","C12Cl9","C13Cl4","C13Cl5","C13Cl6","C13Cl7","C13Cl8","C13Cl9","C14Cl4","C14Cl5","C14Cl6","C14Cl7","C14Cl8","C14Cl9","C14Cl10","C15Cl4","C15Cl5","C15Cl6","C15Cl7","C15Cl8","C15Cl9","C15Cl10","C16Cl4","C16Cl5","C16Cl6","C16Cl7","C16Cl8","C16Cl9","C16Cl10","C17Cl4","C17Cl5","C17Cl6","C17Cl7","C17Cl8","C17Cl9","C17Cl10","C18Cl4","C18Cl5","C18Cl6","C18Cl7","C18Cl8","C18Cl9","C18Cl10","C19Cl4","C19Cl5","C19Cl6","C19Cl7","C19Cl8","C19Cl9","C19Cl10","C20Cl4","C20Cl5","C20Cl6","C20Cl7","C20Cl8","C20Cl9","C20Cl10"]},
       "axis": {"labelFontSize": 9, "values": ["C10Cl4","C10Cl6","C10Cl8","C11Cl5","C11Cl7","C11Cl9","C12Cl5","C12Cl7","C12Cl9","C13Cl5","C13Cl7","C13Cl9","C14Cl5","C14Cl7","C14Cl9","C15Cl4","C15Cl6","C15Cl8","C15Cl10","C16Cl5","C16Cl7","C16Cl9","C17Cl4","C17Cl6","C17Cl8","C17Cl10","C18Cl5","C18Cl7","C18Cl9","C19Cl4","C19Cl6","C19Cl8","C19Cl10","C20Cl5","C20Cl7","C20Cl9"]}},
     "xOffset": {"field": "s", "type": "nominal", "scale": {"paddingInner": 0.2, "paddingOuter": 0.43}},
     "y": {"field": "v", "type": "quantitative", "title": "定量値（ng/g）-dry",
       "scale": {"domain": [0, 25], "nice": false},
       "axis": {"values": [0,5,10,15,20,25], "tickCount": 8, "format": "d", "labelPadding": 20, "minExtent": 45, "maxExtent": 45, "titlePadding": 30, "titleY": 200}},
     "color": {"field": "s", "type": "nominal", "scale": {"domain": ["未添加-1","未添加-2"], "range": ["#5A86C6","#F7963A"]},
       "legend": {"title": null, "orient": "none", "legendX": 923, "legendY": 517, "symbolType": "square", "symbolSize": 100, "symbolStrokeWidth": 0, "labelFont": "Noto Sans CJK JP", "labelFontSize": 19, "labelColor": "#4d4d35", "rowPadding": 20, "labelOffset": 6}}
    }},
   {"data": {"name": "cats_nat"},
    "mark": {"type": "rect", "blend": "multiply", "yOffset": -11, "y2Offset": 49},
    "encoding": {
     "x": {"field": "cat", "type": "nominal"},
     "y": {"datum": 25, "type": "quantitative"}, "y2": {"datum": 0},
     "fill": {"field": "grp", "type": "nominal", "legend": null, "scale": {"domain": ["SCCPs","MCCPs","LCCPs"], "range": ["#D0E0CC","#FFFFCC","#FFC8C8"]}}
    }},
   {"data": {"name": "ann_br"}, "transform": [{"filter": "datum.kind == 'head'"}],
    "mark": {"type": "text", "font": "DejaVu Sans", "fontSize": 25, "baseline": "middle"},
    "encoding": {"x": {"field": "at", "type": "nominal"}, "y": {"field": "y", "type": "quantitative"}, "text": {"field": "txt"}}},
   {"data": {"name": "ann_br"}, "transform": [{"filter": "datum.kind == 'amount'"}],
    "mark": {"type": "text", "font": "DejaVu Sans", "fontSize": 21.5, "baseline": "middle"},
    "encoding": {"x": {"field": "at", "type": "nominal"}, "y": {"field": "y", "type": "quantitative"}, "text": {"field": "txt"}}},
   {"data": {"name": "ann_br"}, "transform": [{"filter": "datum.kind == 'place'"}],
    "mark": {"type": "text", "font": "DejaVu Sans", "fontSize": 36, "baseline": "middle"},
    "encoding": {"x": {"field": "at", "type": "nominal"}, "y": {"field": "y", "type": "quantitative"}, "text": {"field": "txt"}}}
  ]}
 ]}
]
}
